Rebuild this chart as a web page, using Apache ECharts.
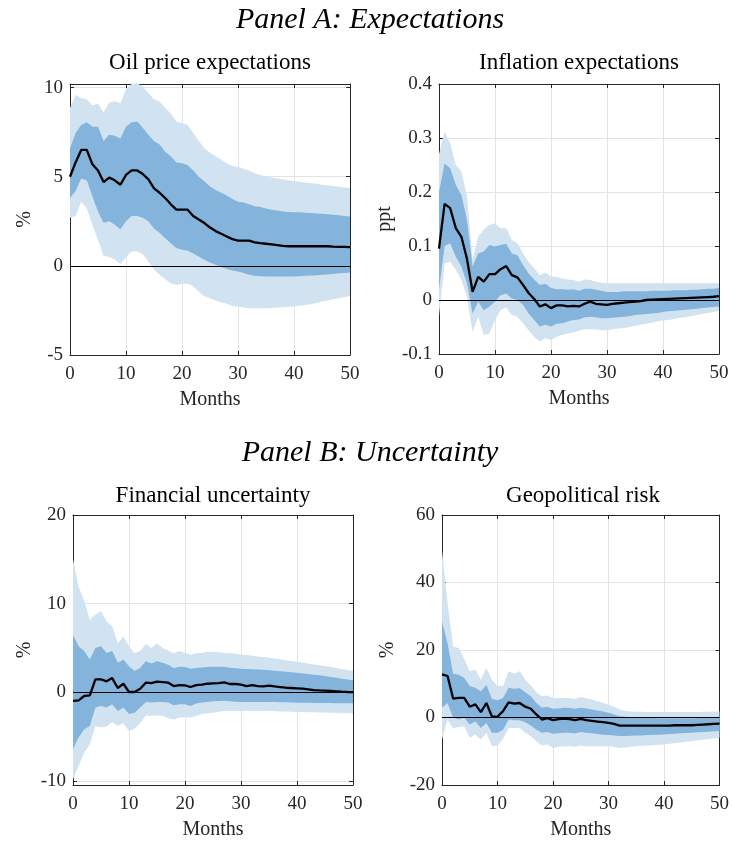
<!DOCTYPE html>
<html>
<head>
<meta charset="utf-8">
<script src="https://cdn.jsdelivr.net/npm/echarts@6/dist/echarts.min.js"></script>
<style>
  html, body { margin: 0; padding: 0; background: #fff; }
  #chart { width: 732px; height: 841px; }
</style>
</head>
<body>
<div id="chart"></div>
<script>
var months = [0,1,2,3,4,5,6,7,8,9,10,11,12,13,14,15,16,17,18,19,20,21,22,23,24,25,
  26,27,28,29,30,31,32,33,34,35,36,37,38,39,40,41,42,43,44,45,46,47,48,49,50]

// Oil price expectations (%)
var oilMid = [5.0,5.8,6.5,6.5,5.7,5.35,4.7,4.95,4.8,4.55,
  5.1,5.35,5.35,5.15,4.85,4.35,4.1,3.8,3.45,3.15,
  3.15,3.15,2.8,2.6,2.4,2.15,1.95,1.8,1.65,1.5,
  1.42,1.42,1.42,1.32,1.27,1.24,1.2,1.16,1.12,1.1,
  1.1,1.1,1.1,1.1,1.1,1.1,1.1,1.08,1.07,1.06,1.05]
var oilHi68 = [6.6,7.45,7.9,8.05,7.8,7.8,7.0,7.35,7.3,7.15,
  7.8,8.05,8.1,7.75,7.35,7.0,6.8,6.4,6.15,5.8,
  5.75,5.65,5.35,5.0,4.75,4.45,4.25,4.1,3.95,3.75,
  3.6,3.55,3.45,3.35,3.3,3.22,3.15,3.1,3.05,3.02,
  3.0,3.0,2.98,2.96,2.94,2.92,2.9,2.87,2.84,2.8,2.77]
var oilLo68 = [3.8,4.2,4.9,4.8,3.9,3.05,2.4,2.5,2.3,2.05,
  2.5,2.8,2.8,2.7,2.5,2.1,1.85,1.55,1.27,1.0,
  0.9,0.86,0.7,0.52,0.34,0.19,0.06,-0.07,-0.18,-0.26,
  -0.32,-0.4,-0.5,-0.55,-0.58,-0.6,-0.6,-0.6,-0.6,-0.6,
  -0.6,-0.58,-0.56,-0.54,-0.52,-0.5,-0.48,-0.45,-0.42,-0.4,-0.37]
var oilHi90 = [8.85,9.6,9.4,9.35,9.0,9.1,8.6,9.15,9.25,9.1,
  9.9,10.2,10.25,10.05,9.7,9.35,9.2,8.85,8.55,8.1,
  8.0,7.9,7.45,7.0,6.6,6.35,6.15,5.95,5.75,5.6,
  5.55,5.45,5.35,5.2,5.1,5.02,4.95,4.9,4.85,4.8,
  4.75,4.72,4.68,4.64,4.6,4.55,4.52,4.48,4.44,4.4,4.36]
var oilLo90 = [2.7,2.8,3.6,3.25,2.3,1.45,0.55,0.5,0.35,0.1,
  0.5,0.8,0.8,0.65,0.25,-0.2,-0.5,-0.75,-0.97,-1.07,
  -1.0,-1.0,-1.15,-1.45,-1.7,-1.82,-1.95,-2.05,-2.13,-2.25,
  -2.28,-2.33,-2.38,-2.38,-2.38,-2.38,-2.36,-2.34,-2.32,-2.3,
  -2.28,-2.24,-2.2,-2.15,-2.08,-2.0,-1.94,-1.88,-1.82,-1.75,-1.69]

// Inflation expectations (ppt)
var infMid = [0.095,0.178,0.17,0.133,0.117,0.076,0.015,0.043,0.034,0.048,
  0.048,0.057,0.063,0.046,0.042,0.028,0.013,0.002,-0.012,-0.008,
  -0.015,-0.01,-0.01,-0.012,-0.011,-0.012,-0.007,-0.003,-0.007,-0.008,
  -0.009,-0.007,-0.006,-0.005,-0.004,-0.003,-0.002,0,0.0005,0.001,
  0.0015,0.002,0.0025,0.003,0.0035,0.004,0.0045,0.005,0.0055,0.006,0.007]
var infHi68 = [0.2,0.253,0.244,0.213,0.194,0.148,0.062,0.086,0.09,0.102,
  0.099,0.102,0.104,0.086,0.083,0.065,0.049,0.038,0.028,0.03,
  0.022,0.02,0.02,0.019,0.02,0.017,0.021,0.021,0.019,0.017,
  0.015,0.015,0.015,0.016,0.016,0.016,0.016,0.016,0.017,0.017,
  0.017,0.017,0.018,0.018,0.018,0.019,0.019,0.02,0.021,0.021,0.022]
var infLo68 = [0.02,0.1,0.105,0.08,0.062,0.031,-0.025,-0.003,-0.019,-0.012,
  -0.003,0.009,0.012,0.003,0,-0.009,-0.025,-0.037,-0.049,-0.046,
  -0.049,-0.044,-0.043,-0.04,-0.037,-0.036,-0.032,-0.031,-0.032,-0.034,
  -0.034,-0.033,-0.032,-0.031,-0.03,-0.028,-0.027,-0.026,-0.025,-0.024,
  -0.022,-0.021,-0.02,-0.019,-0.018,-0.017,-0.016,-0.015,-0.014,-0.013,-0.012]
var infHi90 = [0.27,0.312,0.29,0.25,0.238,0.191,0.074,0.117,0.13,0.139,
  0.142,0.133,0.133,0.111,0.105,0.086,0.071,0.059,0.046,0.051,
  0.043,0.043,0.04,0.038,0.037,0.034,0.038,0.037,0.034,0.032,
  0.031,0.031,0.031,0.031,0.031,0.031,0.031,0.031,0.031,0.031,
  0.031,0.031,0.031,0.031,0.031,0.031,0.031,0.031,0.031,0.031,0.031]
var infLo90 = [-0.03,0.068,0.071,0.056,0.037,0.006,-0.059,-0.031,-0.065,-0.062,
  -0.037,-0.019,-0.014,-0.028,-0.031,-0.043,-0.056,-0.068,-0.077,-0.071,
  -0.074,-0.068,-0.065,-0.062,-0.06,-0.057,-0.054,-0.054,-0.054,-0.056,
  -0.056,-0.054,-0.053,-0.052,-0.05,-0.048,-0.046,-0.044,-0.042,-0.04,
  -0.038,-0.037,-0.035,-0.033,-0.032,-0.03,-0.028,-0.026,-0.024,-0.022,-0.02]

// Financial uncertainty (%)
var finMid = [-0.97,-0.9,-0.41,-0.34,1.46,1.46,1.24,1.61,0.49,0.97,
  0.04,0.04,0.41,1.09,1.05,1.2,1.16,1.09,0.71,0.82,
  0.79,0.6,0.82,0.86,0.97,1.01,1.05,1.12,0.94,0.94,
  0.86,0.71,0.82,0.71,0.67,0.75,0.67,0.6,0.52,0.49,
  0.45,0.41,0.34,0.26,0.22,0.19,0.15,0.11,0.07,0.04,0.02]
var finHi68 = [6.5,5.2,4.65,3.7,5.0,5.2,4.45,4.65,3.35,3.7,
  2.95,2.4,2.75,3.5,3.25,3.5,3.35,3.1,2.75,2.9,
  2.85,2.65,2.75,2.8,2.85,2.9,2.9,2.9,2.78,2.73,
  2.66,2.63,2.6,2.57,2.54,2.5,2.44,2.38,2.32,2.26,
  2.2,2.13,2.06,1.99,1.92,1.84,1.74,1.64,1.54,1.44,1.35]
var finLo68 = [-6.4,-5.1,-4.15,-3.8,-1.7,-1.55,-1.7,-1.35,-2.1,-1.7,
  -2.45,-2.3,-1.7,-1.1,-1.15,-1.1,-1.1,-1.15,-1.45,-1.35,
  -1.35,-1.55,-1.25,-1.15,-1.1,-1.0,-0.97,-0.94,-1.0,-1.05,
  -1.09,-1.09,-1.09,-1.09,-1.09,-1.09,-1.1,-1.12,-1.13,-1.14,
  -1.16,-1.17,-1.18,-1.19,-1.2,-1.2,-1.21,-1.22,-1.23,-1.23,-1.24]
var finHi90 = [15.0,11.9,10.3,8.2,8.75,9.15,8.0,7.45,5.5,6.3,
  5.2,4.4,4.65,5.45,5.0,5.5,5.0,4.7,4.4,4.65,
  4.45,4.25,4.4,4.45,4.55,4.55,4.55,4.45,4.4,4.35,
  4.27,4.2,4.13,4.05,3.98,3.9,3.81,3.72,3.63,3.54,
  3.45,3.35,3.25,3.15,3.05,2.96,2.85,2.74,2.62,2.51,2.4]
var finLo90 = [-9.8,-8.3,-6.8,-5.85,-3.8,-3.95,-3.85,-3.35,-3.8,-3.5,
  -4.35,-4.1,-3.5,-2.6,-2.65,-2.6,-2.65,-2.9,-3.05,-2.85,
  -2.85,-2.85,-2.65,-2.45,-2.35,-2.3,-2.2,-2.1,-2.1,-2.1,
  -2.1,-2.1,-2.1,-2.1,-2.1,-2.1,-2.12,-2.15,-2.17,-2.19,
  -2.21,-2.22,-2.24,-2.25,-2.27,-2.28,-2.3,-2.31,-2.33,-2.34,-2.36]

// Geopolitical risk (%)
var geoMid = [12.8,12.3,5.6,5.8,5.8,3.2,3.9,1.6,4.3,0.3,
  0.2,1.9,4.5,4.1,4.3,3.2,2.6,0.9,-0.6,-0.2,
  -0.8,-0.5,-0.3,-0.5,-0.8,-0.4,-0.8,-1.0,-1.2,-1.4,
  -1.6,-1.9,-2.4,-2.4,-2.4,-2.4,-2.4,-2.4,-2.4,-2.4,
  -2.4,-2.4,-2.3,-2.3,-2.3,-2.3,-2.2,-2.1,-2.0,-1.9,-1.8]
var geoHi68 = [28.5,22.0,13.0,12.7,11.7,9.3,8.8,7.8,9.6,5.5,
  5.1,5.8,8.8,8.5,8.7,7.5,6.3,4.3,2.9,3.2,
  2.6,2.7,2.9,2.8,2.6,2.9,2.7,2.4,2.1,1.8,
  1.4,0.9,0.4,0.2,0.1,0.0,-0.05,-0.1,-0.15,-0.2,
  -0.2,-0.2,-0.2,-0.2,-0.2,-0.2,-0.15,-0.1,-0.1,-0.05,0.0]
var geoLo68 = [3.0,4.3,-0.1,-0.6,-0.1,-2.1,-1.1,-3.1,-1.6,-4.5,
  -4.5,-3.6,-0.6,-0.8,-0.8,-1.4,-2.4,-3.6,-4.5,-4.3,
  -4.8,-4.7,-4.5,-4.5,-4.7,-4.3,-4.5,-4.7,-4.9,-5.1,
  -5.2,-5.3,-5.5,-5.5,-5.4,-5.3,-5.3,-5.2,-5.1,-5.1,
  -5.0,-4.9,-4.8,-4.7,-4.6,-4.5,-4.4,-4.3,-4.2,-4.1,-4.0]
var geoHi90 = [49.5,34.0,21.0,20.6,17.4,13.7,14.2,11.2,14.7,11.2,
  9.3,9.3,13.7,13.0,13.7,11.2,9.5,7.5,6.3,6.5,
  5.8,5.7,5.8,5.8,5.5,6.1,5.7,5.3,4.8,4.3,
  3.8,3.2,2.4,1.9,1.8,1.7,1.7,1.6,1.6,1.6,
  1.6,1.6,1.6,1.6,1.6,1.6,1.65,1.7,1.7,1.75,1.8]
var geoLo90 = [-6.5,-0.6,-3.1,-2.8,-2.6,-6.0,-5.0,-6.5,-4.5,-8.5,
  -8.3,-6.3,-3.1,-3.1,-3.1,-4.5,-5.5,-7.0,-8.3,-8.0,
  -9.0,-8.7,-8.5,-8.5,-8.7,-8.3,-8.5,-8.5,-8.5,-8.5,
  -8.5,-8.7,-9.0,-8.9,-8.7,-8.5,-8.4,-8.3,-8.2,-8.1,
  -8.0,-7.8,-7.6,-7.4,-7.2,-7.0,-6.8,-6.6,-6.4,-6.2,-6.0]

var FONT = '"Liberation Serif", "DejaVu Serif", serif'
var AXIS_COLOR = '#262626'
var LIGHT = '#d1e2f1'
var DARK = '#84b3db'

var panels = [
  { title: 'Oil price expectations', yName: '%', nameGap: 35, min: -5, max: 10.2, step: 5, digits: 0,
    grid: { left: 70, top: 84, width: 280, height: 271 }, titleX: 210, titleY: 51,
    mid: oilMid, hi68: oilHi68, lo68: oilLo68, hi90: oilHi90, lo90: oilLo90 },
  { title: 'Inflation expectations', yName: 'ppt', nameGap: 44, min: -0.1, max: 0.4, step: 0.1, digits: 1,
    grid: { left: 439, top: 84, width: 280, height: 270 }, titleX: 579, titleY: 51,
    mid: infMid, hi68: infHi68, lo68: infLo68, hi90: infHi90, lo90: infLo90 },
  { title: 'Financial uncertainty', yName: '%', nameGap: 38, min: -10.45, max: 20, step: 10, digits: 0,
    grid: { left: 73, top: 515, width: 280, height: 271 }, titleX: 213, titleY: 484,
    mid: finMid, hi68: finHi68, lo68: finLo68, hi90: finHi90, lo90: finLo90 },
  { title: 'Geopolitical risk', yName: '%', nameGap: 44, min: -20, max: 60, step: 20, digits: 0,
    grid: { left: 442, top: 515, width: 281, height: 271 }, titleX: 583, titleY: 484,
    mid: geoMid, hi68: geoHi68, lo68: geoLo68, hi90: geoHi90, lo90: geoLo90 }
]

function diff(hi, lo) {
  var out = []
  for (let i = 0; i < hi.length; i++) {
    out.push(+(hi[i] - lo[i]).toFixed(4))
  }
  return out
}

var grids = [], xAxes = [], yAxes = [], series = []
var titles = [
  { text: 'Panel A: Expectations', left: 370, top: 5, textAlign: 'center', padding: 0,
    textStyle: { fontFamily: FONT, fontStyle: 'italic', fontWeight: 'normal', fontSize: 30, color: '#000' } },
  { text: 'Panel B: Uncertainty', left: 370, top: 438, textAlign: 'center', padding: 0,
    textStyle: { fontFamily: FONT, fontStyle: 'italic', fontWeight: 'normal', fontSize: 30, color: '#000' } }
]

panels.forEach(function (p, i) {
  grids.push(p.grid)
  titles.push({
    text: p.title, left: p.titleX, top: p.titleY, textAlign: 'center', padding: 0,
    textStyle: { fontFamily: FONT, fontWeight: 'normal', fontSize: 23, color: '#000' }
  })

  // MATLAB-style labels: only the tick multiples, zero printed as "0"
  var labelFmt = function (v) {
    var k = Math.round(v / p.step)
    if (Math.abs(v - k * p.step) > 1e-6) return ''
    if (k === 0) return '0'
    return (k * p.step).toFixed(p.digits)
  }

  // bottom + top x axes (top one only for the box and ticks)
  xAxes.push({
    type: 'category', gridIndex: i, data: months, boundaryGap: false, position: 'bottom',
    name: 'Months', nameLocation: 'middle', nameGap: 35,
    nameTextStyle: { fontFamily: FONT, fontSize: 20, color: AXIS_COLOR },
    axisLine: { onZero: false, lineStyle: { color: AXIS_COLOR, width: 1 } },
    axisTick: { inside: true, length: 4, interval: 9, lineStyle: { color: AXIS_COLOR } },
    axisLabel: { interval: 9, margin: 10, fontFamily: FONT, fontSize: 19, color: AXIS_COLOR },
    splitLine: { show: true, interval: 9, lineStyle: { color: '#e3e3e3', width: 1 } }
  })
  xAxes.push({
    type: 'category', gridIndex: i, data: months, boundaryGap: false, position: 'top',
    axisLine: { onZero: false, lineStyle: { color: AXIS_COLOR, width: 1 } },
    axisTick: { inside: true, length: 4, interval: 9, lineStyle: { color: AXIS_COLOR } },
    axisLabel: { show: false }, splitLine: { show: false }
  })

  var yBase = {
    type: 'value', gridIndex: i, min: p.min, max: p.max,
    minInterval: p.step, maxInterval: p.step
  }
  yAxes.push(Object.assign({}, yBase, {
    position: 'left',
    name: p.yName, nameLocation: 'middle', nameGap: p.nameGap, nameRotate: 90,
    nameTextStyle: { fontFamily: FONT, fontSize: 20, color: AXIS_COLOR },
    axisLine: { show: true, onZero: false, lineStyle: { color: AXIS_COLOR, width: 1 } },
    axisTick: { show: true, inside: true, length: 4, lineStyle: { color: AXIS_COLOR } },
    axisLabel: { margin: 7, fontFamily: FONT, fontSize: 19, color: AXIS_COLOR, formatter: labelFmt },
    splitLine: { show: true, lineStyle: { color: '#e3e3e3', width: 1 } }
  }))
  yAxes.push(Object.assign({}, yBase, {
    position: 'right',
    axisLine: { show: true, onZero: false, lineStyle: { color: AXIS_COLOR, width: 1 } },
    axisTick: { show: true, inside: true, length: 4, lineStyle: { color: AXIS_COLOR } },
    axisLabel: { show: false }, splitLine: { show: false }
  }))

  var xi = i * 2, yi = i * 2
  var common = { type: 'line', xAxisIndex: xi, yAxisIndex: yi, symbol: 'none', silent: true,
    stackStrategy: 'all', animation: false }

  series.push(Object.assign({}, common, {
    name: 'lo90_' + i, stack: 'b90_' + i, data: p.lo90, lineStyle: { opacity: 0 }
  }))
  series.push(Object.assign({}, common, {
    name: 'band90_' + i, stack: 'b90_' + i, data: diff(p.hi90, p.lo90),
    lineStyle: { opacity: 0 }, areaStyle: { color: LIGHT, opacity: 1 }
  }))
  series.push(Object.assign({}, common, {
    name: 'lo68_' + i, stack: 'b68_' + i, data: p.lo68, lineStyle: { opacity: 0 }
  }))
  series.push(Object.assign({}, common, {
    name: 'band68_' + i, stack: 'b68_' + i, data: diff(p.hi68, p.lo68),
    lineStyle: { opacity: 0 }, areaStyle: { color: DARK, opacity: 1 }
  }))
  series.push({
    type: 'line', name: 'irf_' + i, xAxisIndex: xi, yAxisIndex: yi, data: p.mid,
    symbol: 'none', silent: true, animation: false, z: 5,
    lineStyle: { color: '#000', width: 2.3 },
    markLine: {
      silent: true, symbol: ['none', 'none'], label: { show: false },
      lineStyle: { color: '#000', width: 1, type: 'solid' },
      data: [{ yAxis: 0 }]
    }
  })
})

var chart = echarts.init(document.getElementById('chart'), null, { renderer: 'canvas' })
chart.setOption({
  backgroundColor: '#fff',
  animation: false,
  title: titles,
  grid: grids,
  xAxis: xAxes,
  yAxis: yAxes,
  series: series
})
</script>
</body>
</html>
